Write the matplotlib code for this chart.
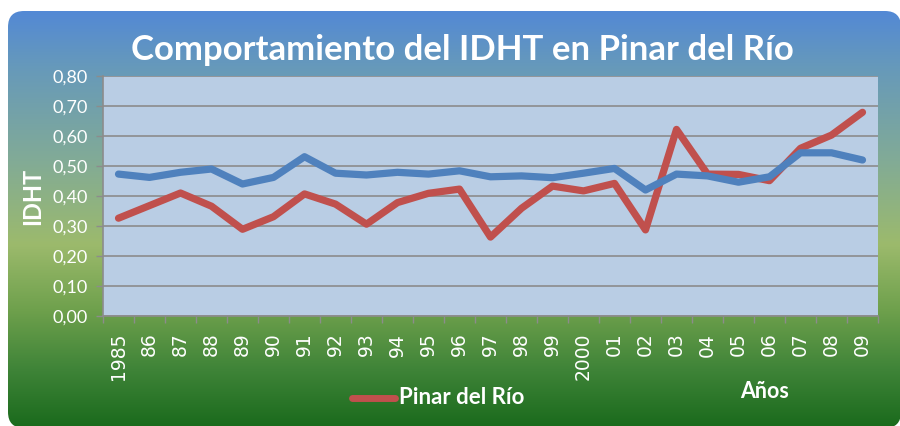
import numpy as np
import matplotlib
matplotlib.use("Agg")
import matplotlib.pyplot as plt
from matplotlib.colors import LinearSegmentedColormap
from matplotlib.patches import FancyBboxPatch
from matplotlib.lines import Line2D

years = ["1985", "86", "87", "88", "89", "90", "91", "92", "93", "94", "95", "96",
         "97", "98", "99", "2000", "01", "02", "03", "04", "05", "06", "07", "08", "09"]
pinar = [0.326, 0.368, 0.410, 0.366, 0.289, 0.331, 0.407, 0.373, 0.306, 0.378, 0.409, 0.423,
         0.263, 0.359, 0.433, 0.417, 0.442, 0.287, 0.622, 0.473, 0.472, 0.451, 0.559, 0.603, 0.679]
cuba = [0.473, 0.462, 0.479, 0.490, 0.440, 0.462, 0.531, 0.476, 0.470, 0.479, 0.473, 0.484,
        0.464, 0.467, 0.461, 0.476, 0.492, 0.420, 0.473, 0.467, 0.446, 0.464, 0.544, 0.544, 0.520]
yticks = [0.0, 0.1, 0.2, 0.3, 0.4, 0.5, 0.6, 0.7, 0.8]

W, H = 900, 426
fig = plt.figure(figsize=(9, 4.26), dpi=100)
fig.patch.set_facecolor("white")

# background panel with gradient
bg = fig.add_axes([0, 0, 1, 1], zorder=0)
bg.set_xlim(0, W)
bg.set_ylim(H, 0)
bg.axis("off")
stops = [(0.0, "#5389d5"), (0.13, "#6699bb"), (0.36, "#82ab96"), (0.56, "#9cba6c"),
         (0.72, "#6ea04c"), (0.86, "#3f8438"), (1.0, "#1a6a1c")]
cmap = LinearSegmentedColormap.from_list("g", stops)
grad = np.linspace(0, 1, 512).reshape(-1, 1)
im = bg.imshow(grad, cmap=cmap, aspect="auto", extent=(0, W, 428, 11), interpolation="bilinear")
panel = FancyBboxPatch((8, 11), 893, 417, boxstyle="round,pad=0,rounding_size=16",
                       facecolor="none", edgecolor="none", transform=bg.transData)
bg.add_patch(panel)
im.set_clip_path(panel)

ax = fig.add_axes([103 / W, 110 / H, 775 / W, 240 / H], zorder=1)
ax.set_facecolor("#b9cde4")
x = np.arange(len(years))
ax.plot(x, pinar, color="#c0504d", lw=5.2, solid_capstyle="round", solid_joinstyle="round", zorder=3)
ax.plot(x, cuba, color="#4f81bd", lw=5.2, solid_capstyle="round", solid_joinstyle="round", zorder=4)
ax.set_xlim(-0.5, len(years) - 0.5)
ax.set_ylim(0, 0.8)
ax.set_yticks(yticks)
ax.set_yticklabels([f"{v:.2f}".replace(".", ",") for v in yticks], fontfamily="Lato",
                   fontsize=13, color="white")
ax.yaxis.grid(True, color="#8c8c8c", lw=1.2)
ax.set_axisbelow(True)
ax.set_xticks(np.arange(-0.5, len(years), 1.0))
ax.set_xticklabels([])
ax.set_xticks(x, minor=True)
ax.set_xticklabels(years, minor=True, rotation=90, fontfamily="DejaVu Sans", fontsize=13.5,
                   color="white", va="top")
ax.tick_params(axis="x", which="major", length=5, color="#8c8c8c", width=1)
ax.tick_params(axis="x", which="minor", length=0, pad=12)
ax.tick_params(axis="y", length=5, color="#8c8c8c", width=1, pad=6)
for s in ["top", "right"]:
    ax.spines[s].set_visible(False)
for s in ["left", "bottom"]:
    ax.spines[s].set_color("#8c8c8c")
    ax.spines[s].set_linewidth(1.2)

ax.set_ylabel("IDHT", fontfamily="Lato", fontweight="bold", fontsize=17, color="white", labelpad=6)

fig.text(462 / W, 1 - 50 / H, "Comportamiento del IDHT en Pinar del Río", fontfamily="Lato",
         fontweight="bold", fontsize=25, color="white", ha="center", va="center")

# legend
fig.add_artist(Line2D([352 / W, 395 / W], [1 - 398 / H, 1 - 398 / H], color="#c0504d", lw=5,
                      solid_capstyle="round"))
fig.text(399 / W, 1 - 398 / H, "Pinar del Río", fontfamily="Lato", fontweight="bold",
         fontsize=16, color="white", ha="left", va="center")
fig.text(765 / W, 1 - 391 / H, "Años", fontfamily="Lato", fontweight="bold",
         fontsize=15.5, color="white", ha="center", va="center")

fig.savefig("out.png", dpi=100, facecolor="white")
